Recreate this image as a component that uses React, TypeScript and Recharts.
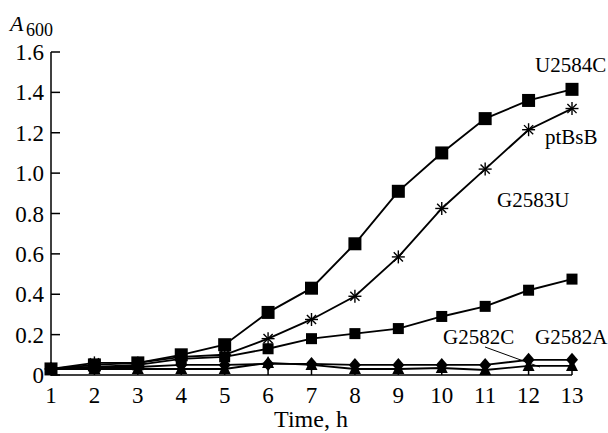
import { LineChart, Line, XAxis, YAxis } from 'recharts';

const hours = [1, 2, 3, 4, 5, 6, 7, 8, 9, 10, 11, 12, 13];
const u2584c = [0.03, 0.05, 0.06, 0.1, 0.15, 0.31, 0.43, 0.65, 0.91, 1.1, 1.27, 1.36, 1.415];
const ptBsB = [0.03, 0.06, 0.06, 0.09, 0.1, 0.18, 0.275, 0.39, 0.585, 0.825, 1.02, 1.215, 1.32];
const g2583u = [0.03, 0.04, 0.05, 0.08, 0.09, 0.13, 0.18, 0.205, 0.23, 0.29, 0.34, 0.42, 0.475];
const g2582a = [0.03, 0.04, 0.04, 0.05, 0.05, 0.055, 0.055, 0.05, 0.05, 0.05, 0.05, 0.075, 0.075];
const g2582c = [0.03, 0.03, 0.03, 0.03, 0.03, 0.06, 0.05, 0.03, 0.03, 0.035, 0.025, 0.045, 0.045];
const yTicks = [0, 0.2, 0.4, 0.6, 0.8, 1.0, 1.2, 1.4, 1.6];

const data = hours.map((t, i) => ({
  t,
  u2584c: u2584c[i],
  ptBsB: ptBsB[i],
  g2583u: g2583u[i],
  g2582a: g2582a[i],
  g2582c: g2582c[i]
}));

const font = '"Liberation Serif", "Times New Roman", serif';

const square = (size: number) => (p: any) => <rect key={p.index} x={p.cx - size / 2} y={p.cy - size / 2} width={size} height={size} fill="#000" />;

const star = (p: any) => {
  const r = 6.5;
  const d = r * 0.707;
  return <g key={p.index} stroke="#000" strokeWidth={1.4}>
      <line x1={p.cx - r} y1={p.cy} x2={p.cx + r} y2={p.cy} />
      <line x1={p.cx} y1={p.cy - r} x2={p.cx} y2={p.cy + r} />
      <line x1={p.cx - d} y1={p.cy - d} x2={p.cx + d} y2={p.cy + d} />
      <line x1={p.cx - d} y1={p.cy + d} x2={p.cx + d} y2={p.cy - d} />
    </g>;
};

const diamond = (p: any) => <polygon key={p.index} points={`${p.cx},${p.cy - 7} ${p.cx + 6},${p.cy} ${p.cx},${p.cy + 7} ${p.cx - 6},${p.cy}`} fill="#000" />;

const triangle = (p: any) => <polygon key={p.index} points={`${p.cx},${p.cy - 7} ${p.cx + 6},${p.cy + 5} ${p.cx - 6},${p.cy + 5}`} fill="#000" />;

const XTick = (p: any) => <g>
    <line x1={p.x} y1={p.y} x2={p.x} y2={p.y - 8} stroke="#000" strokeWidth={1.5} />
    <text x={p.x} y={p.y + 28} textAnchor="middle" fontSize={23} fontFamily={font} fill="#000">{p.payload.value}</text>
  </g>;

const YTick = (p: any) => <g>
    <line x1={p.x} y1={p.y} x2={p.x + 9} y2={p.y} stroke="#000" strokeWidth={1.5} />
    <text x={p.x - 7} y={p.y + 8} textAnchor="end" fontSize={23} fontFamily={font} fill="#000">{p.payload.value === 0 ? '0' : p.payload.value.toFixed(1)}</text>
  </g>;

const labelStyle = { fontSize: 21, fontFamily: font, fill: '#000' };

const App = () => {
  return <div style={{ position: 'absolute', left: 0, top: 0, width: 608, height: 433, background: '#fff' }}>
      <LineChart width={608} height={433} data={data} margin={{ top: 52, right: 36, bottom: 0, left: 0 }}>
        <XAxis dataKey="t" type="number" domain={[1, 13]} ticks={hours} height={58} tickSize={0} tickMargin={0} tickLine={false} tick={<XTick />} axisLine={{ stroke: '#000', strokeWidth: 1.5 }} />
        <YAxis type="number" domain={[0, 1.6]} ticks={yTicks} width={51} tickSize={0} tickMargin={0} tickLine={false} tick={<YTick />} axisLine={{ stroke: '#000', strokeWidth: 1.5 }} />
        <Line dataKey="g2582c" stroke="#000" strokeWidth={1.9} dot={triangle} isAnimationActive={false} />
        <Line dataKey="g2582a" stroke="#000" strokeWidth={1.9} dot={diamond} isAnimationActive={false} />
        <Line dataKey="g2583u" stroke="#000" strokeWidth={1.9} dot={square(11)} isAnimationActive={false} />
        <Line dataKey="ptBsB" stroke="#000" strokeWidth={1.9} dot={star} isAnimationActive={false} />
        <Line dataKey="u2584c" stroke="#000" strokeWidth={1.9} dot={square(13)} isAnimationActive={false} />
        <text x={10} y={31} fontSize={22} fontStyle="italic" fontFamily={font} fill="#000">A</text>
        <text x={26} y={36} fontSize={18} fontFamily={font} fill="#000">600</text>
        <text x={311} y={427} textAnchor="middle" fontSize={24} fontFamily={font} fill="#000">Time, h</text>
        <text x={535} y={72} {...labelStyle}>U2584C</text>
        <text x={545} y={144} {...labelStyle}>ptBsB</text>
        <text x={497} y={207} {...labelStyle}>G2583U</text>
        <text x={443} y={344} {...labelStyle}>G2582C</text>
        <text x={535} y={344} {...labelStyle}>G2582A</text>
        <line x1={485} y1={347} x2={540} y2={367} stroke="#000" strokeWidth={1} />
      </LineChart>
    </div>;
};

export default App;
